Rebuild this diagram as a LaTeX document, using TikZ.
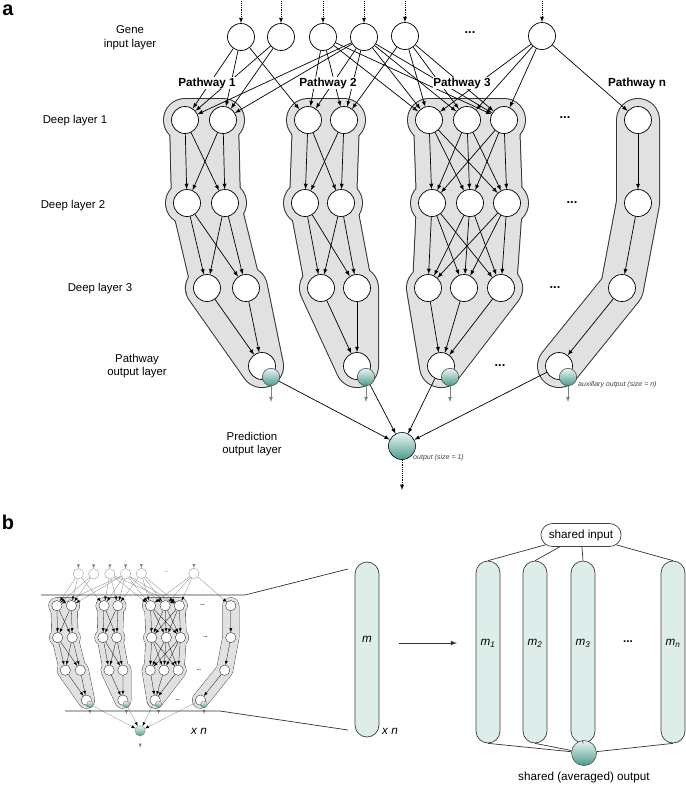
\documentclass[tikz,border=0pt]{standalone}
\usepackage{fontspec}
\setmainfont{Liberation Sans}
\usetikzlibrary{arrows,shapes,positioning}
\pgfdeclarelayer{background}
\pgfsetlayers{background,main}
\definecolor{tealtop}{HTML}{EAF5F2}
\definecolor{tealbot}{HTML}{4E9C8E}
\definecolor{pillfill}{HTML}{DDEDE9}
\definecolor{blobfill}{HTML}{E1E1E1}

\def\nsc{1}
\def\ingrey{black}
\tikzset{
  unit/.style={circle,draw=black,fill=white,minimum size=8.1mm,inner sep=0pt,line width=\nsc*0.6pt},
  inunit/.style={unit,draw=\ingrey},
  auxout/.style={circle,draw=black!70,minimum size=5.2mm,inner sep=0pt,line width=\nsc*0.5pt,top color=tealtop,bottom color=tealbot},
  predout/.style={auxout,draw=\ingrey,minimum size=8.1mm},
  link/.style={->,line width=\nsc*0.6pt},
  inlink/.style={link,draw=\ingrey},
  feed/.style={->,densely dotted,line width=\nsc*0.6pt,draw=\ingrey},
  tap/.style={->,gray,line width=\nsc*0.45pt},
  dots/.style={font=\bfseries\fontsize{11}{12}\selectfont},
  layer/.style={align=center,font=\fontsize{9.7}{11.6}\selectfont},
  pathlabel/.style={font=\bfseries\fontsize{10}{12}\selectfont,fill=white,inner sep=0.5pt},
  smallnote/.style={font=\itshape\fontsize{6}{7}\selectfont,text=black!75,anchor=west,inner sep=0pt},
  pill/.style={rectangle,rounded corners=3.6mm,draw=black!75,fill=pillfill,minimum width=7.2mm,line width=0.6pt,text height=2mm,text depth=6mm,font=\itshape},
  sharedbox/.style={rounded rectangle,draw=black!75,minimum width=26.4mm,minimum height=6.9mm,line width=0.6pt},
  plain/.style={black!80,line width=0.6pt}
}

% tube shapes round each pathway, drawn twice (rim, then fill)
\newcommand\blobshape[2]{%
  \draw[line width=\nsc*#1,line cap=round,line join=round]
    (a11.center) -- (a12.center) (a21.center) -- (a22.center)
    (a31.center) -- (a32.center) -- (ao.center) -- cycle
    (b11.center) -- (b12.center) (b21.center) -- (b22.center)
    (b31.center) -- (b32.center) -- (bo.center) -- cycle
    (c11.center) -- (c13.center) (c21.center) -- (c23.center)
    (c31.center) -- (c33.center) -- (co.center) -- cycle
    (n1.center) -- (n2.center) -- (n3.center) -- (no.center);
  \draw[line width=\nsc*#2,line cap=round,line join=round]
    (a11.center) -- (a21.center) -- (a31.center) (a12.center) -- (a22.center) -- (a32.center)
    (b11.center) -- (b21.center) -- (b31.center) (b12.center) -- (b22.center) -- (b32.center)
    (c11.center) -- (c21.center) -- (c31.center) (c13.center) -- (c23.center) -- (c33.center);
}
\newcommand\blobcore{%
  \fill (a11.center) -- (a12.center) -- (a22.center) -- (a32.center) -- (ao.center) -- (a31.center) -- (a21.center) -- cycle
    (b11.center) -- (b12.center) -- (b22.center) -- (b32.center) -- (bo.center) -- (b31.center) -- (b21.center) -- cycle
    (c11.center) -- (c13.center) -- (c23.center) -- (c33.center) -- (co.center) -- (c31.center) -- (c21.center) -- cycle;
}

\newcommand\pathnet{%
  % gene input layer
  \node[inunit] (g1) at (241,37) {};
  \node[inunit] (g2) at (281,37) {};
  \node[inunit] (g3) at (323,37) {};
  \node[inunit] (g4) at (364,37) {};
  \node[inunit] (g5) at (405,36) {};
  \node[inunit] (g6) at (542,36) {};
  \node[dots,text=\ingrey] (gdots) at (470,33) {...};
  \coordinate (top1) at (241,1); \coordinate (top2) at (281,1); \coordinate (top3) at (323,1);
  \coordinate (top4) at (364,1); \coordinate (top5) at (405,1); \coordinate (top6) at (542,1);
  \draw[feed] (top1) -- (g1);
  \draw[feed] (top2) -- (g2);
  \draw[feed] (top3) -- (g3);
  \draw[feed] (top4) -- (g4);
  \draw[feed] (top5) -- (g5);
  \draw[feed] (top6) -- (g6);
  % pathway 1
  \node[unit] (a11) at (185,120) {}; \node[unit] (a12) at (223,120) {};
  \node[unit] (a21) at (187,203) {}; \node[unit] (a22) at (225,203) {};
  \node[unit] (a31) at (207,288) {}; \node[unit] (a32) at (246,288) {};
  \node[unit] (ao) at (262,366) {};
  \node[auxout] (ag) at (271,377) {};
  % pathway 2
  \node[unit] (b11) at (308,120) {}; \node[unit] (b12) at (344,120) {};
  \node[unit] (b21) at (305,203) {}; \node[unit] (b22) at (341,203) {};
  \node[unit] (b31) at (321,288) {}; \node[unit] (b32) at (357,288) {};
  \node[unit] (bo) at (357,366) {};
  \node[auxout] (bg) at (366,377) {};
  % pathway 3
  \node[unit] (c11) at (429,120) {}; \node[unit] (c12) at (467,120) {}; \node[unit] (c13) at (504,120) {};
  \node[unit] (c21) at (432,203) {}; \node[unit] (c22) at (470,203) {}; \node[unit] (c23) at (507,203) {};
  \node[unit] (c31) at (428,288) {}; \node[unit] (c32) at (464,288) {}; \node[unit] (c33) at (501,288) {};
  \node[unit] (co) at (441,366) {};
  \node[auxout] (cg) at (450,377) {};
  % pathway n
  \node[unit] (n1) at (638,120) {};
  \node[unit] (n2) at (638,203) {};
  \node[unit] (n3) at (622,288) {};
  \node[unit] (no) at (559,366) {};
  \node[auxout] (ng) at (568,377) {};
  \node[dots] (d1) at (565,118) {...};
  \node[dots] (d2) at (572,203) {...};
  \node[dots] (d3) at (555,288) {...};
  \node[dots] (d4) at (500,366) {...};
  % prediction output
  \node[predout] (pred) at (402,446) {};
  \coordinate (pout) at (402,490);
  \coordinate (ta) at (271,402); \coordinate (tb) at (366,402);
  \coordinate (tc) at (450,402); \coordinate (tn) at (568,402);
  \path[inlink] (g1) edge (a11) edge (a12) edge (b11)
    (g2) edge (a11) edge (a12)
    (g3) edge (b11) edge (b12) edge (c11) edge (c13)
    (g4) edge (a11) edge (a12) edge (b11) edge (b12) edge (c11) edge (c12) edge (c13)
    (g5) edge (b12) edge (c11) edge (c12) edge (c13)
    (g6) edge (c11) edge (c12) edge (c13) edge (n1);
  \path[link]
    (a11) edge (a21) edge (a22) (a12) edge (a21) edge (a22)
    (a21) edge (a31) edge (a32) (a22) edge (a31) edge (a32)
    (a31) edge (ao) (a32) edge (ao)
    (b11) edge (b21) edge (b22) (b12) edge (b21) edge (b22)
    (b21) edge (b31) edge (b32) (b22) edge (b31) edge (b32)
    (b31) edge (bo) (b32) edge (bo)
    (c11) edge (c21) edge (c22) edge (c23)
    (c12) edge (c21) edge (c22) edge (c23)
    (c13) edge (c21) edge (c22) edge (c23)
    (c21) edge (c31) edge (c32) edge (c33)
    (c22) edge (c31) edge (c32) edge (c33)
    (c23) edge (c31) edge (c32) edge (c33)
    (c31) edge (co) (c32) edge (co) (c33) edge (co)
    (n1) edge (n2) (n2) edge (n3) (n3) edge (no);
  \path[inlink] (ag) edge (pred) (bg) edge (pred) (co) edge (pred) (no) edge (pred);
  \path[tap] (ag) edge (ta) (bg) edge (tb) (cg) edge (tc) (ng) edge (tn);
  \draw[feed] (pred) -- (pout);
  \begin{pgfonlayer}{background}
    \begin{scope}[draw=black!80]\blobshape{13.2mm}{9.6mm}\end{scope}
    \begin{scope}[draw=blobfill,fill=blobfill]\blobshape{12.6mm}{9mm}\blobcore\end{scope}
  \end{pgfonlayer}
}

\begin{document}
\begin{tikzpicture}[x=0.3mm,y=-0.3mm,>=latex]
  \useasboundingbox (0,0) rectangle (685,793);
  % panel a
  \node[font=\bfseries\fontsize{17}{17}\selectfont] (pa) at (8,10) {a};
  \pathnet
  \node[layer] (lgene) at (130,38) {Gene\\input layer};
  \node[layer] (ld1) at (75,121) {Deep layer 1};
  \node[layer] (ld2) at (73,206) {Deep layer 2};
  \node[layer] (ld3) at (100,289) {Deep layer 3};
  \node[layer] (lpo) at (137,366) {Pathway\\output layer};
  \node[layer] (lpred) at (252,444) {Prediction\\output layer};
  \node[pathlabel] (lp1) at (207,83) {Pathway 1};
  \node[pathlabel] (lp2) at (328,83) {Pathway 2};
  \node[pathlabel] (lp3) at (462,83) {Pathway 3};
  \node[pathlabel] (lpn) at (637,83) {Pathway n};
  \node[smallnote] (laux) at (578,385) {auxillary output (size = n)};
  \node[smallnote] (lout) at (413,458) {output (size = 1)};
  % panel b
  \node[font=\bfseries\fontsize{17}{17}\selectfont] (pb) at (8,522) {b};
  \begin{scope}[shift={(-14.2,559.6)},scale=0.384,transform shape,name prefix=s-]
    \def\nsc{0.384}\def\ingrey{gray}
    \pathnet
  \end{scope}
  \node[pill,minimum height=52.5mm] (m) at (367,649.5) {m};
  \node[pill,minimum height=54.6mm] (m1) at (488,652) {m\textsubscript{1}};
  \node[pill,minimum height=54.6mm] (m2) at (535,652) {m\textsubscript{2}};
  \node[pill,minimum height=54.6mm] (m3) at (583,652) {m\textsubscript{3}};
  \node[pill,minimum height=54.6mm] (mn) at (673,652) {m\textsubscript{n}};
  \node[font=\bfseries] (mdots) at (628,642) {...};
  \node[sharedbox] (sin) at (581,535) {shared input};
  \node[predout,draw=black!70,minimum size=7.5mm] (sout) at (584,753) {};
  \node (soutl) at (584,777) {shared (averaged) output};
  \node[font=\itshape] (xn1) at (199,731) {x n};
  \node[font=\itshape] (xn2) at (390,731) {x n};
  \coordinate (zt1) at (41,595); \coordinate (zt2) at (245,595); \coordinate (zt3) at (348,569);
  \coordinate (zb1) at (65,711); \coordinate (zb2) at (220,711); \coordinate (zb3) at (348,730);
  \draw[plain] (zt1) -- (zt2) -- (zt3);
  \draw[plain] (zb1) -- (zb2) -- (zb3);
  \coordinate (ar1) at (399,643); \coordinate (ar2) at (457,643);
  \draw[plain,->,line width=0.8pt] (ar1) -- (ar2);
  \path[plain] (m1.north) edge (sin) (m2.north) edge (sin) (m3.north) edge (sin) (mn.north) edge (sin)
    (m1.south) edge (sout) (m2.south) edge (sout) (m3.south) edge (sout) (mn.south) edge (sout);
\end{tikzpicture}
\end{document}
